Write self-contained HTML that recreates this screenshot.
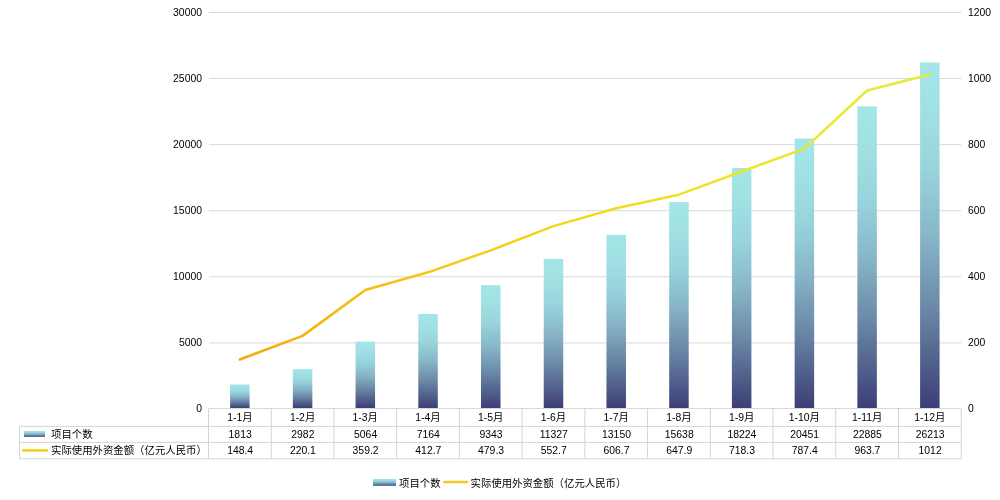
<!DOCTYPE html>
<html lang="zh"><head><meta charset="utf-8"><title>chart</title>
<style>
html,body{margin:0;padding:0;background:#fff;}
svg{display:block;}
text{font-family:"Liberation Sans","Noto Sans CJK SC",sans-serif;font-size:10.4px;fill:#000;}
</style></head><body>
<svg width="1000" height="500" viewBox="0 0 1000 500">
<defs>
<linearGradient id="bg" x1="0" y1="0" x2="0" y2="1">
<stop offset="0" stop-color="rgb(163,230,232)"/><stop offset="0.15" stop-color="rgb(160,224,227)"/><stop offset="0.3" stop-color="rgb(153,213,220)"/><stop offset="0.4" stop-color="rgb(144,198,211)"/><stop offset="0.5" stop-color="rgb(136,182,200)"/><stop offset="0.7" stop-color="rgb(108,139,169)"/><stop offset="0.9" stop-color="rgb(76,88,134)"/><stop offset="1" stop-color="rgb(60,62,118)"/>
</linearGradient>
<linearGradient id="kg" x1="0" y1="0" x2="0" y2="1"><stop offset="0" stop-color="rgb(163,228,232)"/><stop offset="0.35" stop-color="rgb(150,208,218)"/><stop offset="0.7" stop-color="rgb(110,145,180)"/><stop offset="1" stop-color="rgb(64,72,132)"/></linearGradient>
<linearGradient id="lg" gradientUnits="userSpaceOnUse" x1="240" y1="0" x2="930" y2="0">
<stop offset="0" stop-color="rgb(247,168,12)"/><stop offset="0.23" stop-color="rgb(245,196,20)"/><stop offset="0.47" stop-color="rgb(241,216,28)"/><stop offset="0.67" stop-color="rgb(239,227,37)"/><stop offset="1" stop-color="rgb(228,236,60)"/>
</linearGradient>
</defs>
<rect width="1000" height="500" fill="#fff"/>

<line x1="209.0" x2="961.2" y1="408.5" y2="408.5" stroke="#d9d9d9" stroke-width="1"/>
<line x1="209.0" x2="961.2" y1="342.9" y2="342.9" stroke="#d9d9d9" stroke-width="1"/>
<line x1="209.0" x2="961.2" y1="276.8" y2="276.8" stroke="#d9d9d9" stroke-width="1"/>
<line x1="209.0" x2="961.2" y1="210.7" y2="210.7" stroke="#d9d9d9" stroke-width="1"/>
<line x1="209.0" x2="961.2" y1="144.62" y2="144.62" stroke="#d9d9d9" stroke-width="1"/>
<line x1="209.0" x2="961.2" y1="78.55" y2="78.55" stroke="#d9d9d9" stroke-width="1"/>
<line x1="209.0" x2="961.2" y1="12.5" y2="12.5" stroke="#d9d9d9" stroke-width="1"/>
<rect x="230.11" y="384.57" width="19.5" height="23.43" fill="url(#bg)"/>
<rect x="292.84" y="369.14" width="19.5" height="38.86" fill="url(#bg)"/>
<rect x="355.56" y="341.66" width="19.5" height="66.34" fill="url(#bg)"/>
<rect x="418.29" y="313.94" width="19.5" height="94.06" fill="url(#bg)"/>
<rect x="481.01" y="285.17" width="19.5" height="122.83" fill="url(#bg)"/>
<rect x="543.74" y="258.98" width="19.5" height="149.02" fill="url(#bg)"/>
<rect x="606.46" y="234.92" width="19.5" height="173.08" fill="url(#bg)"/>
<rect x="669.19" y="202.08" width="19.5" height="205.92" fill="url(#bg)"/>
<rect x="731.91" y="167.94" width="19.5" height="240.06" fill="url(#bg)"/>
<rect x="794.64" y="138.55" width="19.5" height="269.45" fill="url(#bg)"/>
<rect x="857.36" y="106.42" width="19.5" height="301.58" fill="url(#bg)"/>
<rect x="920.09" y="62.49" width="19.5" height="345.51" fill="url(#bg)"/>
<polyline points="239.86,359.53 302.59,335.87 365.31,289.96 428.04,272.31 490.76,250.33 553.49,226.11 616.21,208.29 678.94,194.69 741.66,171.46 804.39,148.66 867.11,90.48 929.84,74.54" fill="none" stroke="url(#lg)" stroke-width="2.5" stroke-linejoin="round" stroke-linecap="round"/>
<text x="202" y="412.1" text-anchor="end">0</text>
<text x="968" y="412.1">0</text>
<text x="202" y="346.1" text-anchor="end">5000</text>
<text x="968" y="346.1">200</text>
<text x="202" y="280.1" text-anchor="end">10000</text>
<text x="968" y="280.1">400</text>
<text x="202" y="214.1" text-anchor="end">15000</text>
<text x="968" y="214.1">600</text>
<text x="202" y="148.1" text-anchor="end">20000</text>
<text x="968" y="148.1">800</text>
<text x="202" y="82.1" text-anchor="end">25000</text>
<text x="968" y="82.1">1000</text>
<text x="202" y="16.1" text-anchor="end">30000</text>
<text x="968" y="16.1">1200</text>
<line x1="19.5" x2="961.2" y1="426.4" y2="426.4" stroke="#d4d4d4"/>
<line x1="19.5" x2="961.2" y1="442.4" y2="442.4" stroke="#d4d4d4"/>
<line x1="19.5" x2="961.2" y1="458.8" y2="458.8" stroke="#d4d4d4"/>
<line x1="19.5" x2="19.5" y1="426.4" y2="458.8" stroke="#d4d4d4"/>
<line x1="208.50" x2="208.50" y1="408.5" y2="458.8" stroke="#d4d4d4"/>
<line x1="271.23" x2="271.23" y1="408.5" y2="458.8" stroke="#d4d4d4"/>
<line x1="333.95" x2="333.95" y1="408.5" y2="458.8" stroke="#d4d4d4"/>
<line x1="396.68" x2="396.68" y1="408.5" y2="458.8" stroke="#d4d4d4"/>
<line x1="459.40" x2="459.40" y1="408.5" y2="458.8" stroke="#d4d4d4"/>
<line x1="522.12" x2="522.12" y1="408.5" y2="458.8" stroke="#d4d4d4"/>
<line x1="584.85" x2="584.85" y1="408.5" y2="458.8" stroke="#d4d4d4"/>
<line x1="647.58" x2="647.58" y1="408.5" y2="458.8" stroke="#d4d4d4"/>
<line x1="710.30" x2="710.30" y1="408.5" y2="458.8" stroke="#d4d4d4"/>
<line x1="773.02" x2="773.02" y1="408.5" y2="458.8" stroke="#d4d4d4"/>
<line x1="835.75" x2="835.75" y1="408.5" y2="458.8" stroke="#d4d4d4"/>
<line x1="898.48" x2="898.48" y1="408.5" y2="458.8" stroke="#d4d4d4"/>
<line x1="961.20" x2="961.20" y1="408.5" y2="458.8" stroke="#d4d4d4"/>
<text x="239.86" y="421.1" text-anchor="middle">1-1月</text>
<text x="240.16" y="438.1" text-anchor="middle">1813</text>
<text x="240.16" y="454.3" text-anchor="middle">148.4</text>
<text x="302.59" y="421.1" text-anchor="middle">1-2月</text>
<text x="302.89" y="438.1" text-anchor="middle">2982</text>
<text x="302.89" y="454.3" text-anchor="middle">220.1</text>
<text x="365.31" y="421.1" text-anchor="middle">1-3月</text>
<text x="365.61" y="438.1" text-anchor="middle">5064</text>
<text x="365.61" y="454.3" text-anchor="middle">359.2</text>
<text x="428.04" y="421.1" text-anchor="middle">1-4月</text>
<text x="428.34" y="438.1" text-anchor="middle">7164</text>
<text x="428.34" y="454.3" text-anchor="middle">412.7</text>
<text x="490.76" y="421.1" text-anchor="middle">1-5月</text>
<text x="491.06" y="438.1" text-anchor="middle">9343</text>
<text x="491.06" y="454.3" text-anchor="middle">479.3</text>
<text x="553.49" y="421.1" text-anchor="middle">1-6月</text>
<text x="553.79" y="438.1" text-anchor="middle">11327</text>
<text x="553.79" y="454.3" text-anchor="middle">552.7</text>
<text x="616.21" y="421.1" text-anchor="middle">1-7月</text>
<text x="616.51" y="438.1" text-anchor="middle">13150</text>
<text x="616.51" y="454.3" text-anchor="middle">606.7</text>
<text x="678.94" y="421.1" text-anchor="middle">1-8月</text>
<text x="679.24" y="438.1" text-anchor="middle">15638</text>
<text x="679.24" y="454.3" text-anchor="middle">647.9</text>
<text x="741.66" y="421.1" text-anchor="middle">1-9月</text>
<text x="741.96" y="438.1" text-anchor="middle">18224</text>
<text x="741.96" y="454.3" text-anchor="middle">718.3</text>
<text x="804.39" y="421.1" text-anchor="middle">1-10月</text>
<text x="804.69" y="438.1" text-anchor="middle">20451</text>
<text x="804.69" y="454.3" text-anchor="middle">787.4</text>
<text x="867.11" y="421.1" text-anchor="middle">1-11月</text>
<text x="867.41" y="438.1" text-anchor="middle">22885</text>
<text x="867.41" y="454.3" text-anchor="middle">963.7</text>
<text x="929.84" y="421.1" text-anchor="middle">1-12月</text>
<text x="930.14" y="438.1" text-anchor="middle">26213</text>
<text x="930.14" y="454.3" text-anchor="middle">1012</text>
<rect x="24" y="431" width="21" height="5.9" fill="url(#kg)"/>
<line x1="23.5" x2="46.8" y1="450.4" y2="450.4" stroke="#f4d024" stroke-width="2.9" stroke-linecap="round"/>
<text x="51" y="438.4">项目个数</text>
<text x="51" y="454.2">实际使用外资金额（亿元人民币）</text>
<rect x="373" y="479" width="23" height="6.8" fill="url(#kg)"/>
<text x="399" y="486.5">项目个数</text>
<line x1="444.3" x2="467" y1="482" y2="482" stroke="#f2cc20" stroke-width="2.5" stroke-linecap="round"/>
<text x="470.5" y="486.5">实际使用外资金额（亿元人民币）</text>
</svg></body></html>
